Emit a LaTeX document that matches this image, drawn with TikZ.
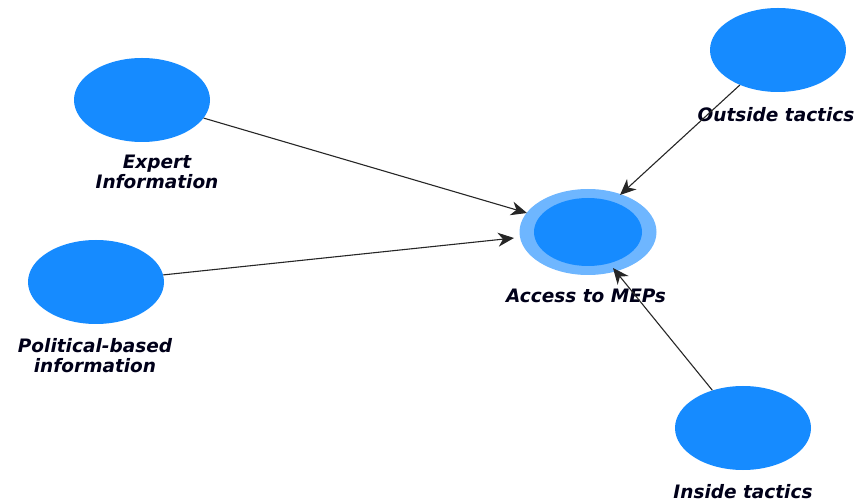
\documentclass[tikz,border=0pt]{standalone}
\usepackage{fontspec}
\setmainfont{DejaVu Sans}
\usetikzlibrary{arrows.meta,shapes.geometric}
\definecolor{nodeblue}{RGB}{22,139,255}
\definecolor{ringblue}{RGB}{110,182,255}
\begin{document}
\begin{tikzpicture}[x=1pt,y=-1pt,
  lv/.style={ellipse,fill=nodeblue,draw=none,minimum width=136pt,minimum height=84pt,inner sep=0pt},
  lbl/.style={font=\bfseries\itshape\fontsize{18.5}{20}\selectfont,align=center,text=black!90!blue,inner sep=0pt},
  conn/.style={draw=black!85,line width=1.1pt,-{Stealth[length=16pt,width=14pt,inset=5pt]}}]
\useasboundingbox (0,0) rectangle (862,502);
% nodes
\node[lv] (exp) at (142,100) {};
\node[lv] (pol) at (96,282) {};
\node[lv] (out) at (778,50) {};
\node[lv] (ins) at (743,428) {};
\node[ellipse,fill=ringblue,minimum width=137pt,minimum height=86pt,inner sep=0pt] (acc) at (588,232) {};
\node[ellipse,fill=nodeblue,minimum width=108pt,minimum height=68pt,inner sep=0pt] (accin) at (588,232) {};
% labels
\node[lbl] (expl) at (157,172) {Expert\\Information};
\node[lbl] (poll) at (95,356) {Political-based\\information};
\node[lbl] (outl) at (776,115) {Outside tactics};
\node[lbl] (insl) at (743,492) {Inside tactics};
\node[lbl] (accl) at (586,296) {Access to MEPs};
% connectors
\coordinate (e1) at (527,213);
\coordinate (p1) at (514,238);
\coordinate (o1) at (620,195);
\coordinate (i1) at (613,268);
\draw[conn] (exp) -- (e1);
\draw[conn] (pol) -- (p1);
\draw[conn] (out) -- (o1);
\draw[conn] (ins) -- (i1);
\end{tikzpicture}
\end{document}
